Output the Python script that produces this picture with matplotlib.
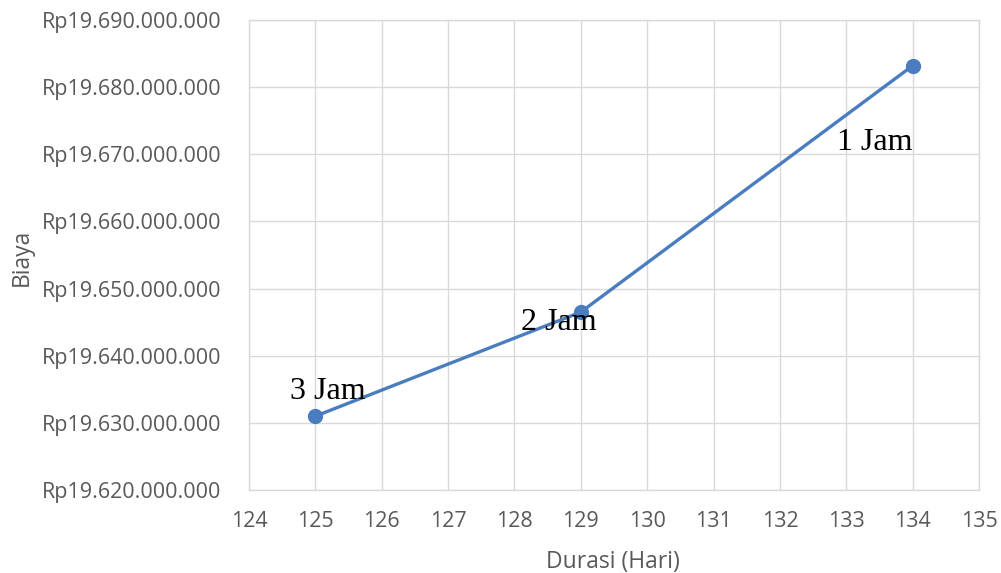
import matplotlib.pyplot as plt
from matplotlib.ticker import FuncFormatter, MultipleLocator

# Durasi proyek (hari) vs biaya total untuk tiap opsi lembur
durasi = [125, 129, 134]
biaya = [19631000000, 19646500000, 19683200000]
label_jam = ['3 Jam', '2 Jam', '1 Jam']
# posisi teks label relatif ke titik (pixel)
label_offset = [(12, 17), (-22, -18), (-38, -84)]

gray_text = '#595959'
grid_color = '#D9D9D9'
blue = '#4A7DC0'

plt.rcParams['font.family'] = ['Open Sans', 'DejaVu Sans']

fig = plt.figure(figsize=(10.01, 5.73), dpi=100)
ax = fig.add_axes([0.2488, 0.1449, 0.978 - 0.2488, 0.965 - 0.1449])

ax.plot(durasi, biaya, color=blue, lw=2.4, marker='o', ms=10, zorder=3)
for x, y, lab, off in zip(durasi, biaya, label_jam, label_offset):
    ax.annotate(lab, (x, y), xytext=off, textcoords='offset pixels',
                ha='center', va='baseline', fontsize=23,
                family='Liberation Serif', color='black', zorder=4)

ax.set_xlim(124, 135)
ax.set_ylim(19620000000, 19690000000)
ax.xaxis.set_major_locator(MultipleLocator(1))
ax.yaxis.set_major_locator(MultipleLocator(10000000))


def rupiah(v, pos):
    return 'Rp' + f'{int(round(v)):,}'.replace(',', '.')


ax.yaxis.set_major_formatter(FuncFormatter(rupiah))

ax.grid(True, color=grid_color, lw=1)
ax.set_axisbelow(True)
for s in ax.spines.values():
    s.set_color(grid_color)
    s.set_linewidth(1)
ax.tick_params(length=0, labelsize=15.5, labelcolor=gray_text)
ax.tick_params(axis='y', pad=20)
ax.tick_params(axis='x', pad=15)

ax.set_xlabel('Durasi (Hari)', fontsize=16.5, color=gray_text, va='center')
ax.set_ylabel('Biaya', fontsize=16.5, color=gray_text, va='center')
ax.xaxis.set_label_coords(0.4986, -0.153)
ax.yaxis.set_label_coords(-0.3110, 0.494)

fig.savefig('out.png', dpi=100)
